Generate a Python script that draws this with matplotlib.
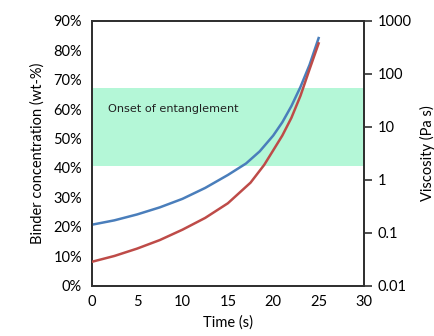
import numpy as np
import matplotlib.pyplot as plt

# blue: binder concentration (left axis, %)
t_conc = [0, 2.5, 5, 7.5, 10, 12.5, 15, 17, 18.5, 20, 21, 22, 23, 24, 25]
conc = [20.7, 22.2, 24.2, 26.6, 29.5, 33.2, 37.6, 41.5, 45.6, 51.0, 55.5, 61.0, 67.5, 75.0, 84.1]

# red: viscosity (right axis, Pa s)
t_visc = [0, 2.5, 5, 7.5, 10, 12.5, 15, 17.5, 19, 20, 21, 22, 23, 24, 25]
visc = [0.0282, 0.0364, 0.0501, 0.0726, 0.114, 0.190, 0.359, 0.880, 1.90,
        3.59, 6.81, 14.7, 38.3, 121, 373]

band = (40.7, 67.1)  # onset of entanglement, wt-%

plt.rcParams['font.family'] = ['Lato', 'DejaVu Sans']

fig = plt.figure(figsize=(4.35, 3.36), dpi=100)
ax = fig.add_axes([0.2108, 0.1497, 0.6260, 0.7887])
ax.axhspan(band[0], band[1], color='#b4f7d7', lw=0, zorder=0)
ax.plot(t_conc, conc, color='#4a7ebb', lw=1.8, zorder=3)
ax.text(1.8, 60, 'Onset of entanglement', fontsize=8.1, family='DejaVu Sans',
        va='center', color='#202020')
ax.set_xlim(0, 30)
ax.set_ylim(0, 90)
ax.set_xticks(range(0, 31, 5))
ax.set_yticks(range(0, 91, 10))
ax.set_yticklabels([f'{v}%' for v in range(0, 91, 10)])
ax.tick_params(length=0, labelsize=10.5, pad=7)
ax.set_xlabel('Time (s)', fontsize=10.5, labelpad=4)
ax.set_ylabel('Binder concentration (wt-%)', fontsize=10.5, labelpad=6)

ax2 = ax.twinx()
ax2.plot(t_visc, visc, color='#be4b48', lw=1.8, zorder=3)
ax2.set_yscale('log')
ax2.set_ylim(0.01, 1000)
ax2.set_yticks([0.01, 0.1, 1, 10, 100, 1000])
ax2.set_yticklabels(['0.01', '0.1', '1', '10', '100', '1000'])
ax2.minorticks_off()
ax2.tick_params(axis='y', length=6, width=1.2, labelsize=10.5, pad=4, color='#303030')
ax2.set_ylabel('Viscosity (Pa s)', fontsize=10.5, labelpad=6)

for a in (ax, ax2):
    for s in a.spines.values():
        s.set_color('#303030')
        s.set_linewidth(1.3)

fig.savefig('out.png', dpi=100)
